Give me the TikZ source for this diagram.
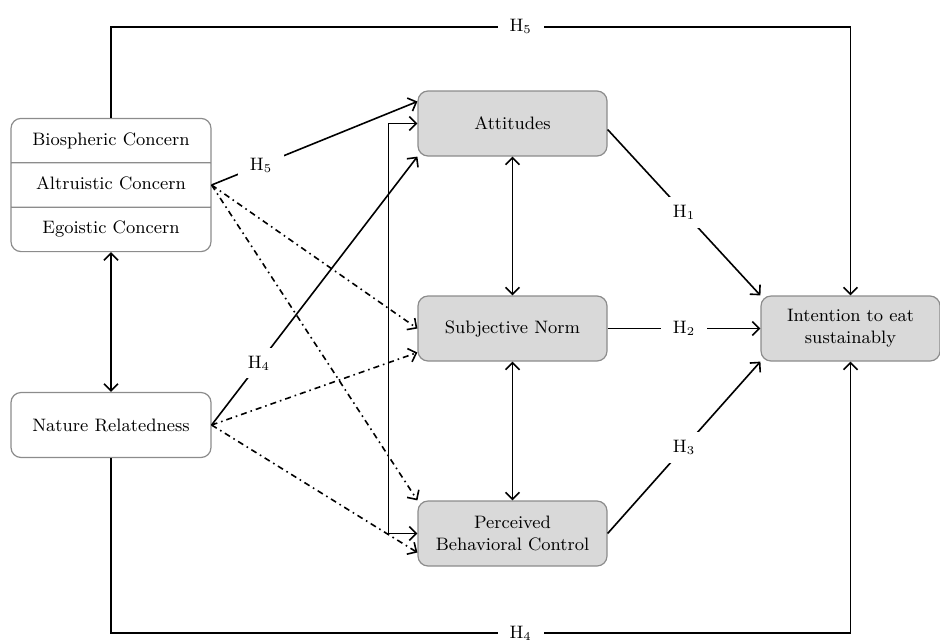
\documentclass[tikz,border=0pt]{standalone}
\usetikzlibrary{positioning,arrows.meta,shapes.multipart}

\begin{document}
\begin{tikzpicture}[x=0.5pt,y=-0.5pt,->,>={Straight Barb[length=3.5pt,width=7pt]},thick,
  node distance=102.5pt,
  every node/.style={font=\fontsize{9}{11}\selectfont},
  plain node/.style={rounded corners=5pt,draw=black!45,semithick,fill=white,
    minimum width=100pt,minimum height=32.5pt},
  latent node/.style={plain node,fill=black!15,minimum width=94.5pt},
  hyp/.style={fill=white,inner xsep=6pt,inner ysep=4pt}]
  \useasboundingbox (0,0) rectangle (940,643);

  \node[plain node,rectangle split,rectangle split parts=3,inner ysep=5.3pt] (vc) at (111,185)
    {\strut Biospheric Concern\nodepart{two}\strut Altruistic Concern\nodepart{three}\strut Egoistic Concern};
  \node[plain node] (nr) at (111,425) {Nature Relatedness};
  \node[latent node] (sn) at (512.5,328.5) {Subjective Norm};
  \node[latent node] (att) [above of=sn] {Attitudes};
  \node[latent node,align=center] (pbc) [below of=sn] {Perceived\\Behavioral Control};
  \node[latent node,align=center,minimum width=89.5pt] (int) [right of=sn,node distance=169pt] {Intention to eat\\sustainably};

  % direct paths around the model
  \draw (vc.north) -- ++(0,-91) -| node[hyp,pos=0.277] {H$_5$} (int.north);
  \draw (nr.south) -- ++(0,175) -| node[hyp,pos=0.277] {H$_4$} (int.south);

  \draw[<->] (vc.south) -- (nr.north);
  \draw[<->] (att) -- (sn);
  \draw[<->] (sn) -- (pbc);
  \draw[<->] (att.west) -- ++(-29,0) |- (pbc.west);

  \draw (vc.east) -- node[hyp,pos=0.24] {H$_5$} ([yshift=11pt]att.west);
  \draw (nr.east) -- node[hyp,pos=0.23] {H$_4$} (att.south west);
  \draw ([yshift=-3pt]att.east) -- node[hyp] {H$_1$} (int.north west);
  \draw (sn) -- node[hyp] {H$_2$} (int);
  \draw (pbc.east) -- node[hyp] {H$_3$} (int.south west);

  \draw[dashdotted] (vc.east) -- (sn.west);
  \draw[dashdotted] (vc.east) -- (pbc.north west);
  \draw[dashdotted] (nr.east) -- ([yshift=-12pt]sn.west);
  \draw[dashdotted] (nr.east) -- ([yshift=-9.5pt]pbc.west);
\end{tikzpicture}
\end{document}
